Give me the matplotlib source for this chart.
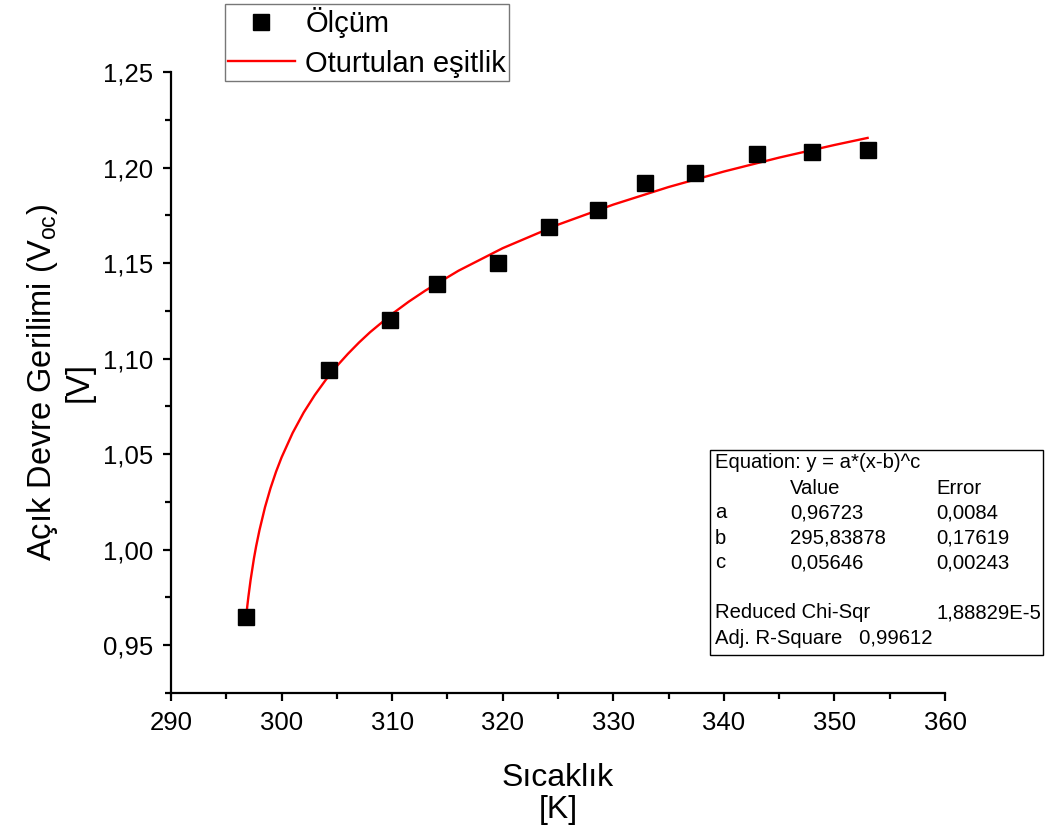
import matplotlib
matplotlib.use('Agg')
import matplotlib.pyplot as plt
from matplotlib.ticker import MultipleLocator, FuncFormatter
from matplotlib.patches import Rectangle

plt.rcParams['font.family'] = ['Liberation Sans', 'DejaVu Sans']
plt.rcParams['mathtext.default'] = 'regular'

# Measured points (temperature in K, Voc in V)
temp_k = [296.8, 304.3, 309.8, 314.1, 319.6, 324.2, 328.6, 332.9, 337.4, 343.0, 348.0, 353.0]
voc_v = [0.965, 1.094, 1.120, 1.139, 1.150, 1.169, 1.178, 1.192, 1.197, 1.207, 1.208, 1.209]

# Fitted curve
fit_x = [296.8, 296.9, 297.0, 297.2, 297.5, 297.7, 298.0, 298.5, 299.0, 299.5, 300.0,
         301.0, 302.0, 303.0, 304.0, 305.0, 306.0, 307.0, 308.0, 310.0, 311.5, 313.0,
         316.0, 320.0, 325.0, 330.0, 335.0, 340.0, 345.0, 350.0, 353.0]
fit_y = [0.9651, 0.9705, 0.9754, 0.9842, 0.9954, 1.0018, 1.0102, 1.0222, 1.0322, 1.0408, 1.0483,
         1.0611, 1.0718, 1.0809, 1.0889, 1.0961, 1.1025, 1.1084, 1.1138, 1.1234, 1.1298, 1.1356,
         1.1460, 1.1578, 1.1701, 1.1806, 1.1898, 1.1979, 1.2052, 1.2118, 1.2155]

# Fit report table
table_rows = [
    ("Equation: y = a*(x-b)^c", "", ""),
    ("", "Value", "Error"),
    ("a", "0,96723", "0,0084"),
    ("b", "295,83878", "0,17619"),
    ("c", "0,05646", "0,00243"),
    ("", "", ""),
    ("Reduced Chi-Sqr", "", "1,88829E-5"),
    ("Adj. R-Square   0,99612", "", ""),
]

W, H = 1054, 836
fig = plt.figure(figsize=(W / 100, H / 100), dpi=100)
ax = fig.add_axes([171 / W, 1 - 693 / H, (945 - 171) / W, (693 - 72) / H])

ax.plot(temp_k, voc_v, 's', color='black', markersize=11.5, label='Ölçüm', zorder=3)
ax.plot(fit_x, fit_y, '-', color='#ff0000', linewidth=1.7, label='Oturtulan eşitlik', zorder=2)

ax.set_xlim(290, 360)
ax.set_ylim(0.925, 1.25)
ax.xaxis.set_major_locator(MultipleLocator(10))
ax.xaxis.set_minor_locator(MultipleLocator(5))
ax.yaxis.set_major_locator(MultipleLocator(0.05))
ax.yaxis.set_minor_locator(MultipleLocator(0.025))
ax.yaxis.set_major_formatter(FuncFormatter(lambda v, p: f"{v:.2f}".replace('.', ',')))
ax.xaxis.set_major_formatter(FuncFormatter(lambda v, p: f"{v:.0f}"))

for side in ['top', 'right']:
    ax.spines[side].set_visible(False)
for side in ['left', 'bottom']:
    ax.spines[side].set_linewidth(1.6)
ax.tick_params(which='major', direction='out', length=6, width=1.6, labelsize=18.5, pad=7)
ax.tick_params(which='minor', direction='out', length=4, width=1.6)

ax.set_xlabel('Sıcaklık\n[K]', fontsize=23, labelpad=20, linespacing=1.1)
ax.set_ylabel('Açık Devre Gerilimi (V$_{oc}$)\n[V]', fontsize=23.5, labelpad=6,
              linespacing=1.15, multialignment='center')

leg = fig.legend(loc='upper left', bbox_to_anchor=(225 / W, 1 - 4 / H), fontsize=21,
                 frameon=True, fancybox=False, handlelength=2.3, handletextpad=0.35,
                 borderpad=0.1, labelspacing=0.4, borderaxespad=0)
leg.get_frame().set_edgecolor('#555555')
leg.get_frame().set_linewidth(1.0)

# fit report box
fig.patches.append(Rectangle((710 / W, 1 - 655 / H), (1043 - 710) / W, (655 - 450) / H,
                             transform=fig.transFigure, fill=False, edgecolor='black',
                             linewidth=1.0))
col_x = [715, 790, 936]
for i, row in enumerate(table_rows):
    y = 463 + 25 * i
    for cx, txt in zip(col_x, row):
        if txt:
            fig.text(cx / W, 1 - y / H, txt, fontsize=14.6, ha='left', va='center')

fig.savefig('out.png', dpi=100)
